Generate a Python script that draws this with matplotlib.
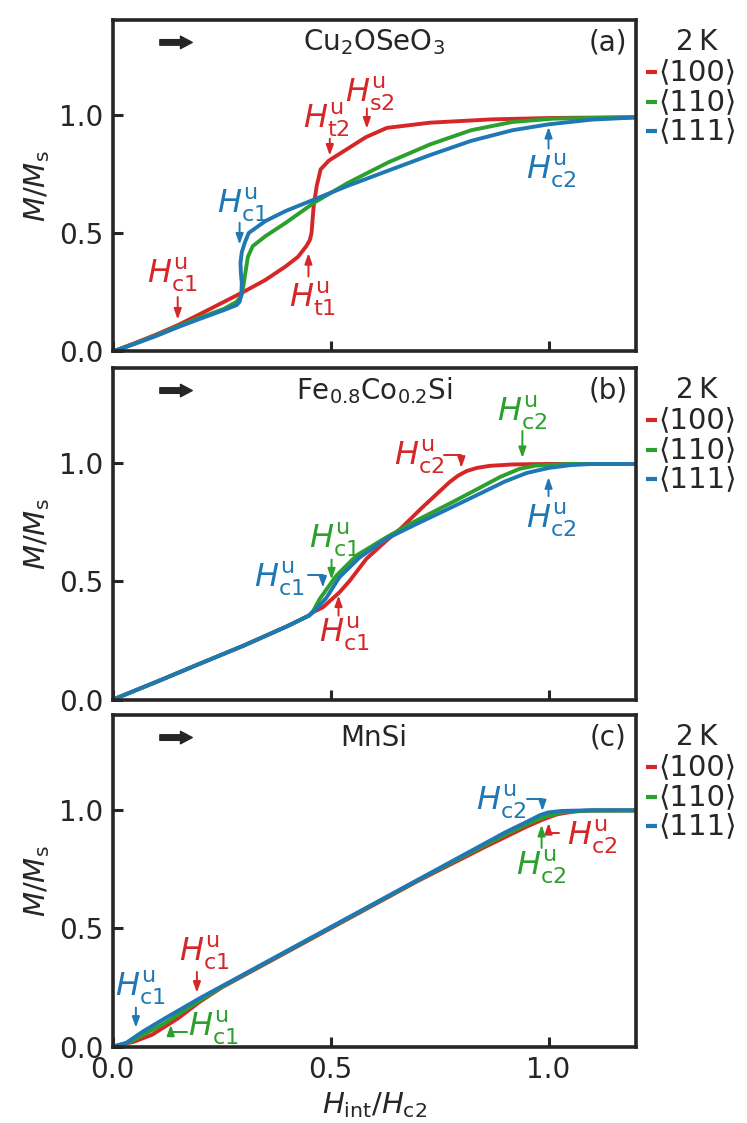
import matplotlib
matplotlib.use("Agg")
import matplotlib.pyplot as plt

plt.rcParams["font.family"] = ["DejaVu Sans"]
plt.rcParams["mathtext.fontset"] = "dejavusans"

# ---------------- data ----------------
directions = ["\u27e8100\u27e9", "\u27e8110\u27e9", "\u27e8111\u27e9"]
colors = ["#d62728", "#2ca02c", "#1f77b4"]
temperature = "2\u2009K"
materials = [r"Cu$_2$OSeO$_3$", r"Fe$_{0.8}$Co$_{0.2}$Si", "MnSi"]
panel_tags = ["(a)", "(b)", "(c)"]
ticks = [0.0, 0.5, 1.0]
tick_labels = ["0.0", "0.5", "1.0"]

# (a) Cu2OSeO3
a_red_x = [0, 0.05, 0.10, 0.15, 0.20, 0.25, 0.30, 0.35, 0.397, 0.425, 0.444, 0.452,
           0.456, 0.461, 0.468, 0.477, 0.496, 0.539, 0.581, 0.629, 0.728, 0.87, 1.011, 1.2]
a_red_y = [0, 0.035, 0.072, 0.112, 0.158, 0.205, 0.252, 0.302, 0.36, 0.40, 0.445, 0.47,
           0.50, 0.615, 0.70, 0.77, 0.807, 0.857, 0.906, 0.945, 0.967, 0.981, 0.987, 0.99]
a_grn_x = [0, 0.05, 0.10, 0.151, 0.20, 0.255, 0.284, 0.295, 0.300, 0.304, 0.31, 0.321,
           0.35, 0.397, 0.463, 0.539, 0.633, 0.728, 0.822, 0.917, 1.011, 1.2]
a_grn_y = [0, 0.033, 0.068, 0.108, 0.143, 0.18, 0.21, 0.235, 0.28, 0.33, 0.40, 0.445,
           0.487, 0.544, 0.63, 0.712, 0.80, 0.875, 0.935, 0.97, 0.984, 0.99]
a_blu_x = [0, 0.05, 0.10, 0.151, 0.20, 0.255, 0.284, 0.291, 0.295, 0.296, 0.294, 0.293,
           0.296, 0.303, 0.312, 0.35, 0.397, 0.463, 0.539, 0.633, 0.728, 0.822, 0.917,
           1.0, 1.1, 1.2]
a_blu_y = [0, 0.032, 0.066, 0.104, 0.138, 0.175, 0.196, 0.21, 0.24, 0.29, 0.33, 0.374,
           0.42, 0.46, 0.501, 0.551, 0.594, 0.643, 0.70, 0.765, 0.83, 0.89, 0.935,
           0.96, 0.98, 0.989]

# (b) Fe0.8Co0.2Si
b_red_x = [0, 0.1, 0.2, 0.3, 0.4, 0.45, 0.46, 0.482, 0.52, 0.544, 0.582, 0.628, 0.662,
           0.709, 0.747, 0.772, 0.792, 0.812, 0.835, 0.865, 0.92, 1.0, 1.2]
b_red_y = [0, 0.075, 0.152, 0.228, 0.31, 0.355, 0.37, 0.39, 0.453, 0.503, 0.595, 0.672,
           0.725, 0.81, 0.875, 0.918, 0.946, 0.966, 0.979, 0.988, 0.994, 0.996, 0.996]
b_grn_x = [0, 0.1, 0.2, 0.3, 0.4, 0.45, 0.46, 0.475, 0.513, 0.56, 0.628, 0.70, 0.78,
           0.842, 0.89, 0.933, 0.97, 1.05, 1.2]
b_grn_y = [0, 0.075, 0.152, 0.228, 0.31, 0.355, 0.375, 0.426, 0.524, 0.61, 0.686, 0.76,
           0.835, 0.895, 0.942, 0.975, 0.989, 0.996, 0.996]
b_blu_x = [0, 0.1, 0.2, 0.3, 0.4, 0.45, 0.46, 0.49, 0.52, 0.566, 0.628, 0.70, 0.78,
           0.842, 0.90, 0.95, 1.0, 1.05, 1.1, 1.2]
b_blu_y = [0, 0.075, 0.152, 0.228, 0.31, 0.355, 0.37, 0.43, 0.517, 0.60, 0.68, 0.745,
           0.815, 0.87, 0.922, 0.958, 0.979, 0.991, 0.996, 0.996]

# (c) MnSi
c_red_x = [0, 0.047, 0.09, 0.15, 0.2, 0.25, 0.3, 0.5, 0.7, 0.85, 0.9, 0.95, 0.99,
           1.02, 1.06, 1.1, 1.2]
c_red_y = [0, 0.02, 0.05, 0.12, 0.19, 0.25, 0.3, 0.5, 0.7, 0.84, 0.885, 0.93, 0.962,
           0.982, 0.994, 0.998, 0.998]
c_grn_x = [0, 0.04, 0.07, 0.12, 0.2, 0.25, 0.3, 0.5, 0.7, 0.85, 0.9, 0.95, 0.99,
           1.03, 1.08, 1.2]
c_grn_y = [0, 0.02, 0.05, 0.10, 0.195, 0.252, 0.303, 0.503, 0.703, 0.848, 0.895, 0.94,
           0.97, 0.99, 0.997, 0.998]
c_blu_x = [0, 0.03, 0.05, 0.07, 0.12, 0.2, 0.25, 0.3, 0.5, 0.7, 0.85, 0.9, 0.95, 0.98,
           1.0, 1.03, 1.1, 1.2]
c_blu_y = [0, 0.015, 0.04, 0.065, 0.12, 0.205, 0.255, 0.305, 0.505, 0.705, 0.855,
           0.905, 0.95, 0.978, 0.99, 0.996, 0.999, 0.999]

curves = [
    [(a_red_x, a_red_y), (a_grn_x, a_grn_y), (a_blu_x, a_blu_y)],
    [(b_red_x, b_red_y), (b_grn_x, b_grn_y), (b_blu_x, b_blu_y)],
    [(c_red_x, c_red_y), (c_grn_x, c_grn_y), (c_blu_x, c_blu_y)],
]

# field markers: (sub index, colour index, text pos, arrow start, arrow tip, bent?)
marks = [
    [("c1", 0, (0.137, 0.325), (0.149, 0.23), (0.149, 0.135), False),
     ("c1", 2, (0.298, 0.62), (0.291, 0.544), (0.291, 0.452), False),
     ("t1", 0, (0.458, 0.224), (0.449, 0.317), (0.449, 0.416), False),
     ("t2", 0, (0.49, 0.977), (0.498, 0.899), (0.498, 0.828), False),
     ("s2", 0, (0.59, 1.09), (0.583, 1.027), (0.583, 0.942), False),
     ("c2", 2, (1.007, 0.764), (1.0, 0.857), (1.0, 0.949), False)],
    [("c2", 1, (0.94, 1.213), (0.94, 1.135), (0.94, 1.021), False),
     ("c2", 0, (0.704, 1.024), (0.761, 1.032), (0.80, 0.98), True),
     ("c1", 1, (0.509, 0.673), (0.502, 0.592), (0.502, 0.508), False),
     ("c1", 2, (0.383, 0.51), (0.447, 0.525), (0.482, 0.474), True),
     ("c1", 0, (0.532, 0.279), (0.518, 0.355), (0.518, 0.44), False),
     ("c2", 2, (1.007, 0.759), (1.0, 0.86), (1.0, 0.94), False)],
    [("c2", 2, (0.892, 1.034), (0.95, 1.046), (0.986, 0.995), True),
     ("c2", 0, (1.10, 0.886), (1.025, 0.903), (1.0, 0.945), True),
     ("c2", 1, (0.984, 0.76), (0.984, 0.84), (0.984, 0.937), False),
     ("c1", 0, (0.211, 0.397), (0.193, 0.316), (0.193, 0.228), False),
     ("c1", 2, (0.062, 0.249), (0.053, 0.165), (0.053, 0.08), False),
     ("c1", 1, (0.23, 0.08), (0.17, 0.063), (0.133, 0.093), True)],
]

dark = "#262626"
fig = plt.figure(figsize=(7.47, 11.23), dpi=100)
bottoms = [0.687, 0.377, 0.068]

for p in range(3):
    ax = fig.add_axes([0.151, bottoms[p], 0.700, 0.295])
    for (xs, ys), c in zip(curves[p], colors):
        ax.plot(xs, ys, color=c, lw=2.8, solid_capstyle="round", solid_joinstyle="round")

    for sub, ci, tpos, start, tip, bent in marks[p]:
        c = colors[ci]
        ax.text(tpos[0], tpos[1], r"$H^{\mathrm{u}}_{\mathrm{%s}}$" % sub, color=c,
                fontsize=23, ha="center", va="center")
        cs = "angle,angleA=0,angleB=90,rad=0" if bent else "arc3"
        ax.annotate("", xy=tip, xytext=start,
                    arrowprops=dict(arrowstyle="-|>,head_length=0.45,head_width=0.16",
                                    color=c, lw=1.4, shrinkA=0, shrinkB=0,
                                    connectionstyle=cs, mutation_scale=14))

    # field direction arrow, material, panel tag
    ax.annotate("", xy=(0.152, 0.933), xytext=(0.09, 0.933), xycoords="axes fraction",
                arrowprops=dict(arrowstyle="simple,head_length=0.85,head_width=0.9,tail_width=0.4",
                                color=dark, mutation_scale=10, shrinkA=0, shrinkB=0))
    ax.text(0.5, 0.933, materials[p], transform=ax.transAxes, ha="center", va="center",
            fontsize=20, color=dark)
    ax.text(0.947, 0.933, panel_tags[p], transform=ax.transAxes, ha="center", va="center",
            fontsize=20, color=dark)

    # legend on the right
    ax.text(1.117, 0.934, temperature, transform=ax.transAxes, ha="center", va="center",
            fontsize=20, color=dark)
    for i, (lab, c) in enumerate(zip(directions, colors)):
        yy = 0.843 - 0.089 * i
        ax.plot([1.019, 1.040], [yy, yy], transform=ax.transAxes, color=c, lw=3,
                clip_on=False, solid_capstyle="butt")
        ax.text(1.044, yy, lab, transform=ax.transAxes, ha="left", va="center",
                fontsize=21, color=dark)

    ax.set_xlim(0, 1.2)
    ax.set_ylim(0, 1.4)
    ax.set_xticks(ticks)
    ax.set_yticks(ticks)
    ax.set_yticklabels(tick_labels)
    ax.set_xticklabels(tick_labels)
    for s in ax.spines.values():
        s.set_linewidth(2.6)
        s.set_color(dark)
    ax.tick_params(direction="in", length=7, width=2.2, labelsize=20, pad=7,
                   colors=dark, top=False, right=False)
    if p < 2:
        ax.tick_params(labelbottom=False)
    else:
        ax.set_xlabel(r"$H_{\mathrm{int}}/H_{\mathrm{c2}}$", fontsize=21, color=dark, labelpad=4)
    ax.set_ylabel(r"$M/M_{\mathrm{s}}$", fontsize=21, color=dark)
    ax.yaxis.set_label_coords(-0.117, 0.5)

fig.savefig("out.png", dpi=100)
